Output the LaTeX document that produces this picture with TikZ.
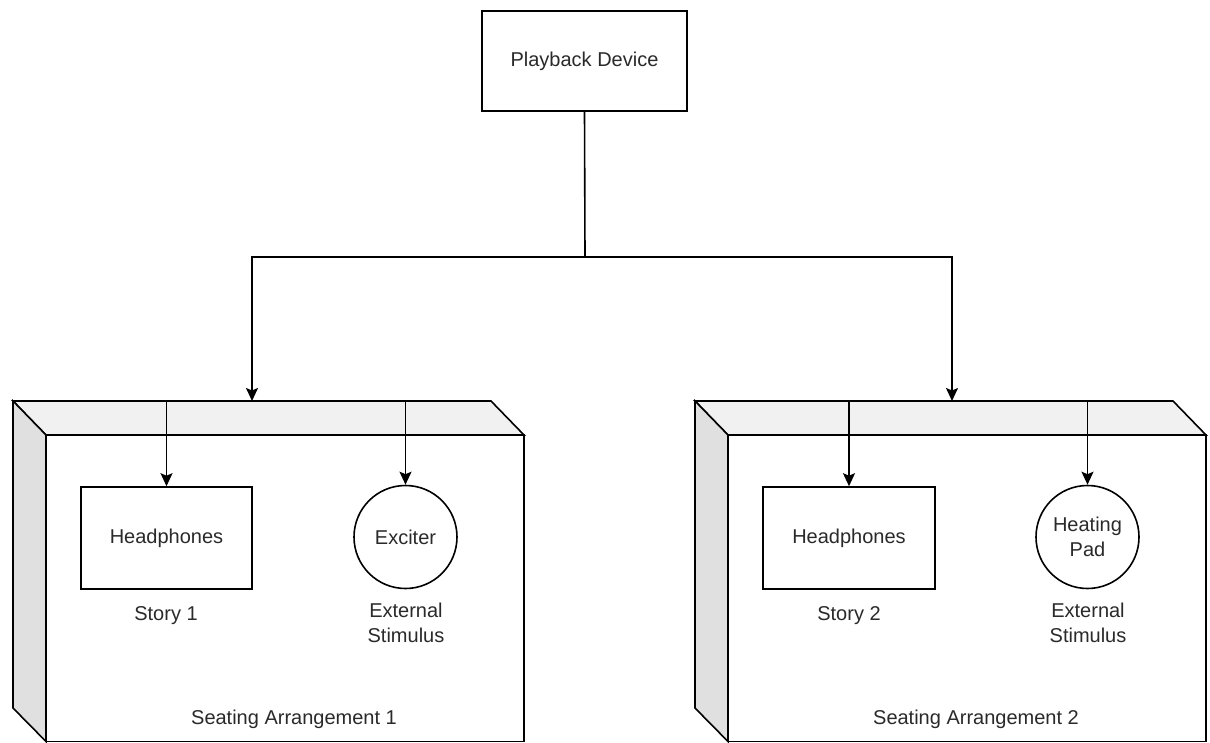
\documentclass[tikz,border=0pt]{standalone}
\usepackage{fontspec}
\setmainfont{Liberation Sans}
\usetikzlibrary{arrows.meta}
\definecolor{topface}{HTML}{F1F1F1}
\definecolor{sideface}{HTML}{E0E0E0}
\definecolor{ink}{HTML}{2A2A2A}
\tikzset{
  edge/.style={line width=1.6pt, draw=black},
  arr/.style={edge, -{Stealth[length=13pt,width=12pt,inset=2.5pt]}},
  blockbox/.style={edge, draw, fill=white, rectangle, inner sep=0pt},
  roundbox/.style={edge, draw, fill=white, circle, inner sep=0pt, minimum size=103pt},
  lbl/.style={text=ink, font=\fontsize{20}{25}\selectfont, align=center, inner sep=0pt},
}
\newcommand{\seatcube}[2]{%
  % #1 = outer left x of the cube, #2 = inner right x
  \pgfmathsetmacro{\xa}{#1}
  \pgfmathsetmacro{\xb}{#1+33}
  \pgfmathsetmacro{\xc}{#2-33}
  \pgfmathsetmacro{\xd}{#2}
  \filldraw[edge, fill=white] (\xb,435) rectangle (\xd,741.5);
  \filldraw[edge, fill=topface, line join=miter] (\xa,401) -- (\xc,401) -- (\xd,435) -- (\xb,435) -- cycle;
  \filldraw[edge, fill=sideface, line join=miter] (\xa,401) -- (\xb,435) -- (\xb,741.5) -- (\xa,708) -- cycle;
}
\begin{document}
\begin{tikzpicture}[x=1pt, y=-1pt]
\useasboundingbox (0,0) rectangle (1210,742);
\fill[white] (0,0) rectangle (1210,742);
\begin{scope}
\clip (0,0) rectangle (1210,742);

% seating arrangements (cube shapes)
\seatcube{13}{524}
\seatcube{695}{1206}

% top device
\node[blockbox, minimum width=205pt, minimum height=100pt] (pb) at (584.5,61) {};
\node[lbl] (pbtxt) at (pb.center) {Playback Device};

% entry points on the cube tops
\coordinate (j)    at (585,257);
\coordinate (s1in) at (252,401);
\coordinate (s2in) at (952,401);
\coordinate (s1a)  at (166.5,401);
\coordinate (s1b)  at (405.5,401);
\coordinate (s2a)  at (849,401);
\coordinate (s2b)  at (1087.5,401);

% devices inside arrangement 1
\node[blockbox, minimum width=171pt, minimum height=102pt] (hp1) at (166.5,538) {};
\node[lbl] at (hp1.center) {Headphones};
\node[roundbox] (ex1) at (405.5,537) {};
\node[lbl] at (ex1.center) {Exciter};

% devices inside arrangement 2
\node[blockbox, minimum width=172pt, minimum height=102pt] (hp2) at (849,538) {};
\node[lbl] at (hp2.center) {Headphones};
\node[roundbox] (ex2) at (1087.5,537) {};
\node[lbl] at (ex2.center) {Heating\\Pad};

% captions
\node[lbl] (st1) at (166,616) {Story 1};
\node[lbl] (es1) at (406,623) {External\\Stimulus};
\node[lbl] (sa1) at (294,719) {Seating Arrangement 1};
\node[lbl] (st2) at (849,616) {Story 2};
\node[lbl] (es2) at (1088,623) {External\\Stimulus};
\node[lbl] (sa2) at (976,719) {Seating Arrangement 2};

% wiring
\draw[edge] (pb.south) -- (j);
\draw[arr] (j) -| (s1in);
\draw[arr] (j) -| (s2in);
\draw[arr] (s1a) -- (hp1.north);
\draw[arr] (s1b) -- (ex1.north);
\draw[arr] (s2a) -- (hp2.north);
\draw[arr] (s2b) -- (ex2.north);
\end{scope}
\end{tikzpicture}
\end{document}
